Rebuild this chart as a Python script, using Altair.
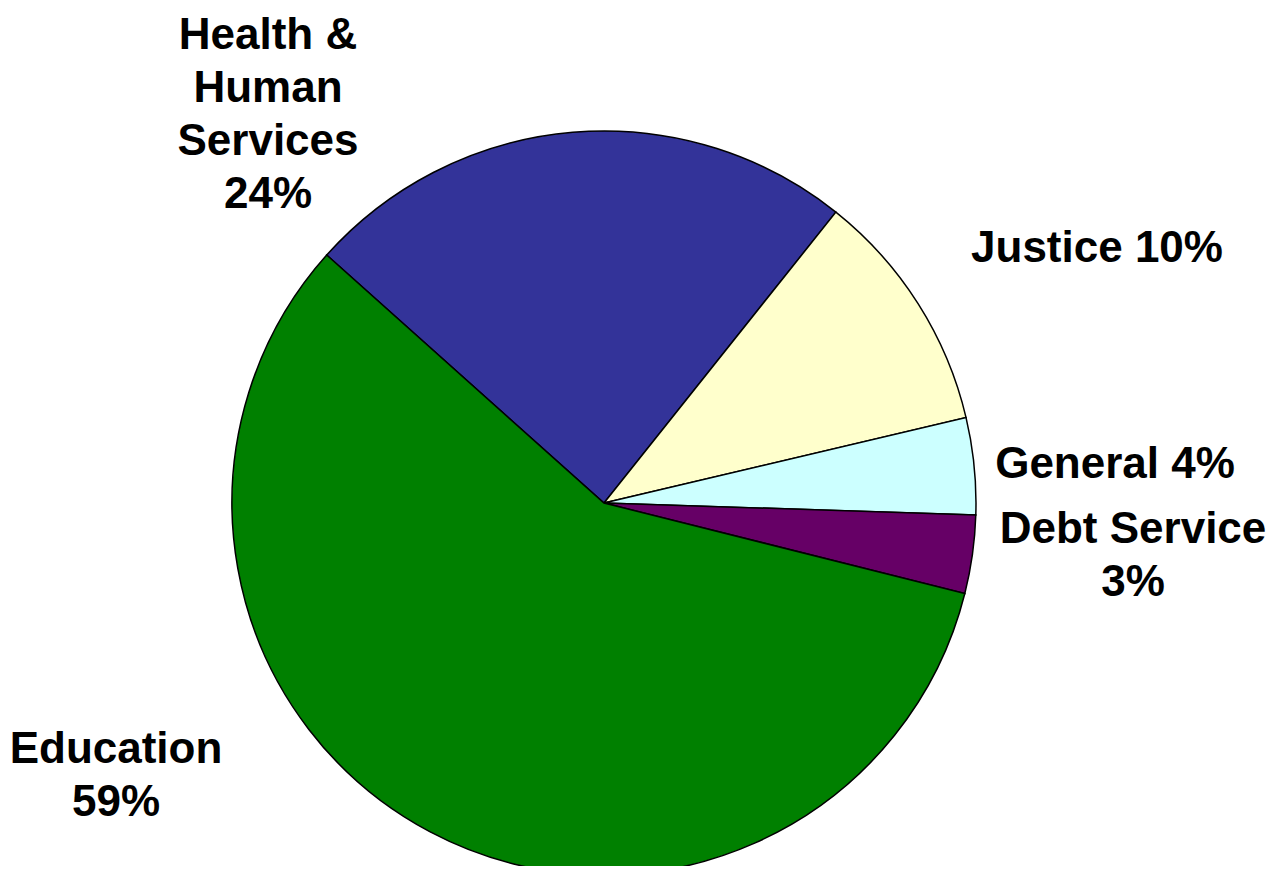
import math
import altair as alt
import pandas as pd

categories = ["Health & Human Services", "Justice", "General", "Debt Service", "Education"]
values = [24.1, 10.6, 4.2, 3.4, 57.7]
colors = ["#333399", "#FFFFCC", "#CCFFFF", "#660066", "#008000"]
labels = ["Health &\nHuman\nServices\n24%", "Justice 10%", "General 4%", "Debt Service\n3%", "Education\n59%"]
label_x = [260, 1089, 1107, 1125, 108]
label_y = [41, 254, 470, 535, 755]

df = pd.DataFrame({"cat": categories, "value": values, "idx": list(range(len(values)))})
ldf = pd.DataFrame({"label": labels, "lx": label_x, "ly": label_y})

start = math.radians(311.8)
pie = alt.Chart(df).mark_arc(radius=372, stroke="black", strokeWidth=1.5).encode(
    theta=alt.Theta("value:Q", stack=True, scale=alt.Scale(range=[start, start + 2 * math.pi])),
    order=alt.Order("idx:Q"),
    color=alt.Color("cat:N", scale=alt.Scale(domain=categories, range=colors), legend=None),
    x=alt.value(596),
    y=alt.value(495),
)

text = alt.Chart(ldf).mark_text(
    font="Liberation Sans", fontWeight="bold", fontSize=44, lineBreak="\n",
    lineHeight=53, align="center", baseline="alphabetic", color="black",
).encode(
    x=alt.X("lx:Q", scale=None),
    y=alt.Y("ly:Q", scale=None),
    text="label:N",
)

chart = alt.layer(pie, text).properties(
    width=1258, height=858, autosize=alt.AutoSizeParams(type="none"), padding=0
).configure_view(stroke=None)

chart.save("out.html", embed_options={"renderer": "svg", "actions": False})
